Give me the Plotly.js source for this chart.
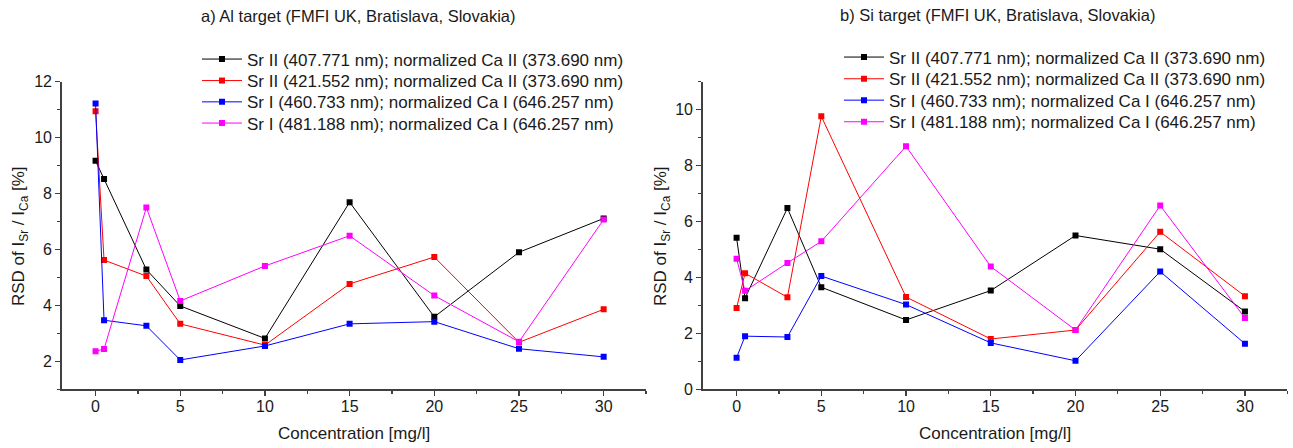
<!DOCTYPE html>
<html>
<head>
<meta charset="utf-8">
<script src="https://cdn.plot.ly/plotly-3.0.1.min.js"></script>
<style>
html,body{margin:0;padding:0;background:#fff;}
#chart{width:1293px;height:448px;}
</style>
</head>
<body>
<div id="chart"></div>
<script>
// Concentrations [mg/l]
const conc = [0, 0.5, 3, 5, 10, 15, 20, 25, 30];

const seriesNames = [
  "Sr II (407.771 nm); normalized Ca II (373.690 nm)",
  "Sr II (421.552 nm); normalized Ca II (373.690 nm)",
  "Sr I (460.733 nm); normalized Ca I (646.257 nm)",
  "Sr I (481.188 nm); normalized Ca I (646.257 nm)"
];
const seriesColors = ["#000000", "#ff0000", "#0000ff", "#ff00ff"];

// a) Al target
const alSrII407 = [9.17, 8.52, 5.28, 3.98, 2.82, 7.69, 3.59, 5.90, 7.11];
const alSrII421 = [10.94, 5.62, 5.05, 3.34, 2.58, 4.77, 5.73, 2.68, 3.86];
const alSrI460  = [11.22, 3.47, 3.27, 2.05, 2.55, 3.34, 3.42, 2.45, 2.16];
const alSrI481  = [2.36, 2.44, 7.50, 4.16, 5.41, 6.49, 4.35, 2.70, 7.07];

// b) Si target
const siSrII407 = [5.42, 3.26, 6.48, 3.65, 2.48, 3.53, 5.50, 5.01, 2.78];
const siSrII421 = [2.91, 4.15, 3.29, 9.76, 3.30, 1.80, 2.12, 5.63, 3.33];
const siSrI460  = [1.13, 1.90, 1.87, 4.05, 3.03, 1.66, 1.02, 4.21, 1.63];
const siSrI481  = [4.67, 3.52, 4.52, 5.29, 8.69, 4.39, 2.12, 6.57, 2.55];

const xTickVals = [0, 5, 10, 15, 20, 25, 30];

const titleA = "a) Al target (FMFI UK, Bratislava, Slovakia)";
const titleB = "b) Si target (FMFI UK, Bratislava, Slovakia)";
const xTitle = "Concentration [mg/l]";
const yTitle = "RSD of I<sub>Sr</sub> / I<sub>Ca</sub> [%]";

const alData = [alSrII407, alSrII421, alSrI460, alSrI481];
const siData = [siSrII407, siSrII421, siSrI460, siSrI481];

const W = 1293, H = 448;
const fontFam = 'Liberation Sans, Arial, sans-serif';

// each legend row is its own legend box so row spacing matches
const legendRowsA = [59.5, 81, 102.3, 123.5];
const legendRowsB = [57.5, 79.2, 100.6, 122.2];
const legendXA = 197, legendXB = 839;

const traces = [];
alData.forEach((ys, i) => {
  traces.push({
    x: conc, y: ys, type: 'scatter', mode: 'lines+markers',
    name: seriesNames[i], xaxis: 'x', yaxis: 'y', showlegend: true,
    legend: i === 0 ? 'legend' : 'legend' + (i + 1),
    line: {color: seriesColors[i], width: 1},
    marker: {symbol: 'square', size: 6, color: seriesColors[i]}
  });
});
siData.forEach((ys, i) => {
  traces.push({
    x: conc, y: ys, type: 'scatter', mode: 'lines+markers',
    name: seriesNames[i], xaxis: 'x2', yaxis: 'y2', showlegend: true,
    legend: 'legend' + (i + 5),
    line: {color: seriesColors[i], width: 1},
    marker: {symbol: 'square', size: 6, color: seriesColors[i]}
  });
});

const axCommon = {
  showline: true, linecolor: '#404040', linewidth: 1.5,
  ticks: 'outside', ticklen: 5, tickwidth: 1.3, tickcolor: '#404040',
  showgrid: false, zeroline: false, mirror: false,
  tickfont: {family: fontFam, size: 16, color: '#1a1a1a'}
};
const xAx = (dom, anchor) => Object.assign({}, axCommon, {
  domain: dom, anchor: anchor, range: [-2, 32.5],
  tickmode: 'array', tickvals: xTickVals, ticklabelstandoff: -3,
  minor: {ticks: 'outside', ticklen: 3, tickwidth: 1.3, tickcolor: '#404040', dtick: 2.5, tick0: 0, showgrid: false}
});
const yAx = (rng, anchor) => Object.assign({}, axCommon, {
  domain: [1 - 389.3 / H, 1 - 81.7 / H], anchor: anchor, range: rng,
  dtick: 2, tick0: 0,
  minor: {ticks: 'outside', ticklen: 3, tickwidth: 1.3, tickcolor: '#404040', dtick: 1, tick0: 0, showgrid: false}
});

const mkLegend = (xpx, ypx) => ({
  x: xpx / W, y: 1 - ypx / H, xanchor: 'left', yanchor: 'middle',
  bgcolor: 'rgba(0,0,0,0)', borderwidth: 0,
  font: {family: fontFam, size: 17, color: '#1a1a1a'},
  itemwidth: 40, tracegroupgap: 0, visible: true
});

const layout = {
  width: W, height: H,
  margin: {l: 0, r: 0, t: 0, b: 0},
  showlegend: true,
  paper_bgcolor: '#fff', plot_bgcolor: '#fff',
  font: {family: fontFam, color: '#1a1a1a'},
  xaxis: xAx([61.7 / W, 646 / W], 'y'),
  yaxis: yAx([1, 12], 'x'),
  xaxis2: xAx([702.7 / W, 1287.3 / W], 'y2'),
  yaxis2: yAx([0, 11], 'x2'),
  annotations: [
    {text: titleA, xref: 'paper', yref: 'paper', x: 199 / W, y: 1 - 16 / H,
     xanchor: 'left', yanchor: 'middle', showarrow: false,
     font: {family: fontFam, size: 16.5, color: '#1a1a1a'}},
    {text: titleB, xref: 'paper', yref: 'paper', x: 838 / W, y: 1 - 15 / H,
     xanchor: 'left', yanchor: 'middle', showarrow: false,
     font: {family: fontFam, size: 16.5, color: '#1a1a1a'}},
    {text: xTitle, xref: 'paper', yref: 'paper', x: 353.8 / W, y: 1 - 433 / H,
     xanchor: 'center', yanchor: 'middle', showarrow: false,
     font: {family: fontFam, size: 17, color: '#1a1a1a'}},
    {text: xTitle, xref: 'paper', yref: 'paper', x: 995 / W, y: 1 - 433 / H,
     xanchor: 'center', yanchor: 'middle', showarrow: false,
     font: {family: fontFam, size: 17, color: '#1a1a1a'}},
    {text: yTitle, xref: 'paper', yref: 'paper', x: 20 / W, y: 1 - 236 / H,
     xanchor: 'center', yanchor: 'middle', showarrow: false, textangle: -90,
     font: {family: fontFam, size: 17, color: '#1a1a1a'}},
    {text: yTitle, xref: 'paper', yref: 'paper', x: 662 / W, y: 1 - 236 / H,
     xanchor: 'center', yanchor: 'middle', showarrow: false, textangle: -90,
     font: {family: fontFam, size: 17, color: '#1a1a1a'}}
  ]
};
legendRowsA.forEach((yy, i) => {
  layout[i === 0 ? 'legend' : 'legend' + (i + 1)] = mkLegend(legendXA, yy);
});
legendRowsB.forEach((yy, i) => {
  layout['legend' + (i + 5)] = mkLegend(legendXB, yy);
});

Plotly.newPlot('chart', traces, layout, {displayModeBar: false, staticPlot: true});
</script>
</body>
</html>
